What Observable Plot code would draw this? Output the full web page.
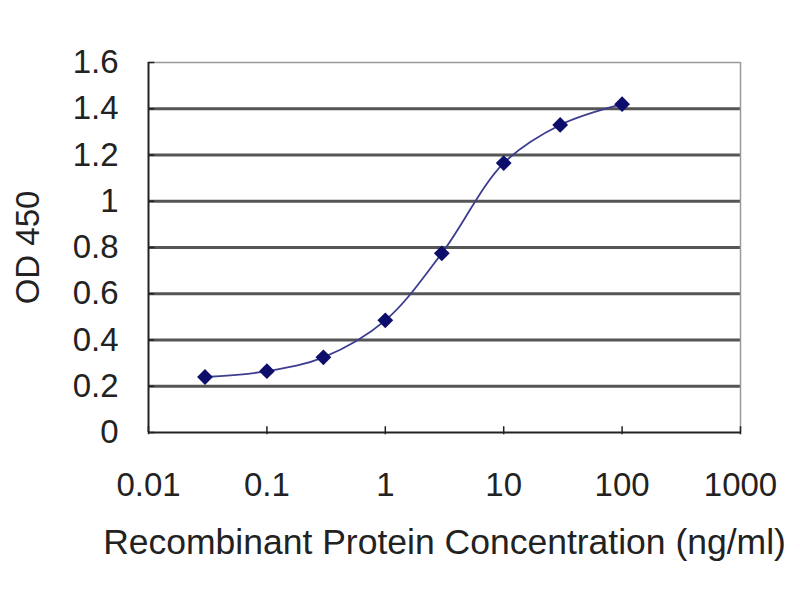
<!DOCTYPE html>
<html>
<head>
<meta charset="utf-8">
<script src="https://cdn.jsdelivr.net/npm/d3@7"></script>
<script src="https://cdn.jsdelivr.net/npm/@observablehq/plot@0.6"></script>
<style>
  body { margin: 0; background: #fff; }
</style>
</head>
<body>
<div id="chart"></div>
<script>
// concentracion (ng/ml) vs OD 450
const concentration = [0.03, 0.1, 0.3, 1, 3, 10, 30, 100]
const od450 = [0.24, 0.265, 0.325, 0.485, 0.775, 1.165, 1.33, 1.42]
const xTicks = [0.01, 0.1, 1, 10, 100, 1000]
const yTicks = [0, 0.2, 0.4, 0.6, 0.8, 1, 1.2, 1.4, 1.6]
const gridLines = [0.2, 0.4, 0.6, 0.8, 1, 1.2, 1.4]

const data = concentration.map((c, i) => ({conc: c, od: od450[i]}))

// rombo cuadrado estilo Excel
const squareDiamond = {
  draw(ctx, size) {
    const h = Math.sqrt(size / 2)
    ctx.moveTo(0, -h); ctx.lineTo(h, 0); ctx.lineTo(0, h); ctx.lineTo(-h, 0); ctx.closePath()
  }
}

const chart = Plot.plot({
  width: 800,
  height: 600,
  marginLeft: 148,
  marginRight: 60,
  marginTop: 62,
  marginBottom: 168,
  style: {fontFamily: "'Liberation Sans', Arial, sans-serif", color: "#222", background: "#fff"},
  x: {type: "log", domain: [0.01, 1000]},
  y: {domain: [0, 1.6]},
  marks: [
    Plot.ruleY(gridLines, {stroke: "#555", strokeWidth: 2.8}),
    Plot.ruleY([1.6], {stroke: "#9a9a9a", strokeWidth: 1.5}),
    Plot.ruleX([1000], {stroke: "#9a9a9a", strokeWidth: 1.5}),
    // ticks
    Plot.ruleY(yTicks, {x1: 0.01, x2: 0.0113, stroke: "#222", strokeWidth: 1.5}),
    Plot.ruleX(xTicks, {y1: -0.01, y2: 0.025, stroke: "#222", strokeWidth: 1.5}),
    Plot.ruleX([0.01], {stroke: "#222", strokeWidth: 2}),
    Plot.ruleY([0], {stroke: "#222", strokeWidth: 2}),
    Plot.axisY({ticks: yTicks, tickSize: 0, tickPadding: 30, fontSize: 33, label: null, tickFormat: d => String(d)}),
    Plot.axisX({ticks: xTicks, tickSize: 0, tickPadding: 40, fontSize: 33, label: null, tickFormat: d => String(d)}),
    Plot.text(["Recombinant Protein Concentration (ng/ml)"], {frameAnchor: "bottom", dy: 121, fontSize: 35.5, fill: "#222"}),
    Plot.text(["OD 450"], {frameAnchor: "left", textAnchor: "middle", dx: -120, rotate: -90, fontSize: 33, fill: "#222"}),
    Plot.line(data, {x: "conc", y: "od", curve: "catmull-rom", stroke: "#3c3c90", strokeWidth: 1.8}),
    Plot.dot(data, {x: "conc", y: "od", symbol: squareDiamond, r: 6.3, fill: "#0d0d6b", stroke: "none"})
  ]
})
d3.select('#chart').append(() => chart)
</script>
</body>
</html>
